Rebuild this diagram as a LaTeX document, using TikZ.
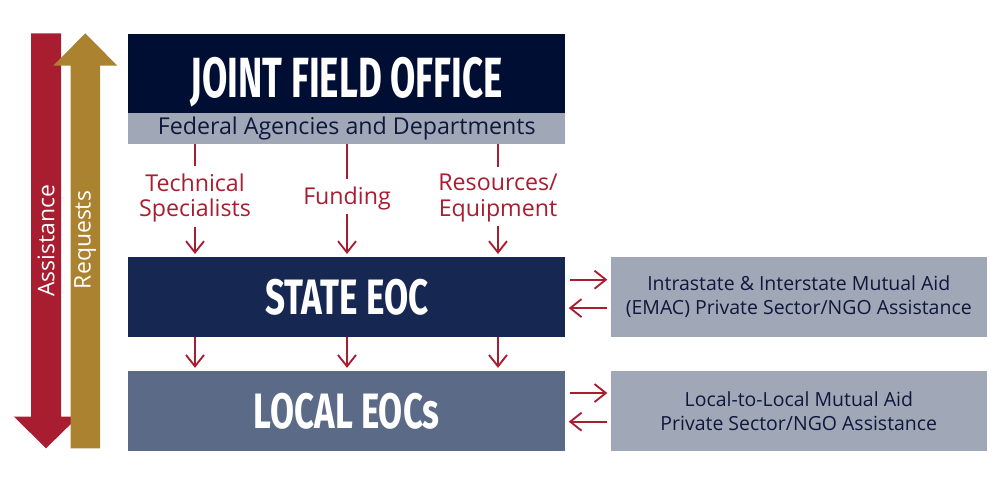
\documentclass[tikz,border=0pt]{standalone}
\usepackage{fontspec}
\usepackage{graphicx}
\setmainfont{Open Sans}
\newfontfamily\headfont{Fira Sans}
\usetikzlibrary{arrows.meta,positioning}

\definecolor{assistred}{HTML}{A91D30}
\definecolor{requestgold}{HTML}{AB8230}
\definecolor{jfonavy}{HTML}{010E34}
\definecolor{statenavy}{HTML}{162852}
\definecolor{localslate}{HTML}{5B6A87}
\definecolor{stripgray}{HTML}{A0A8B8}
\definecolor{textnavy}{HTML}{0E183A}

\newcommand{\headtext}[3]{{\headfont\bfseries\fontsize{#1}{#1}\selectfont\scalebox{#2}[1]{#3}}}

\tikzset{
  bigbox/.style={rectangle,minimum width=327.75pt,minimum height=59.5pt,
                 inner sep=0pt,text=white},
  strip/.style={rectangle,fill=stripgray,minimum width=327.75pt,
                minimum height=23.1pt,inner sep=0pt,text=textnavy,
                font=\fontsize{17.4}{18}\selectfont},
  sidebox/.style={rectangle,fill=stripgray,minimum width=282pt,
                  minimum height=59.5pt,inner sep=0pt,text=textnavy,align=center,
                  font=\fontsize{14.6}{18}\selectfont},
  flowlabel/.style={text=assistred,align=center,inner xsep=0pt,inner ysep=3pt,
                    font=\fontsize{17.4}{19}\selectfont},
  sidetext/.style={text=white,rotate=90,font=\fontsize{17.2}{20}\selectfont},
  flow/.style={draw=assistred,line width=1.4pt}
}

\begin{document}
\begin{tikzpicture}[x=0.75pt,y=0.75pt,>={Straight Barb[length=8.5pt,width=13.5pt]},
                    shorten >=2.4pt]
  \useasboundingbox (0,0) rectangle (1000,500);

  \fill[assistred] (31,466.7) -- (61,466.7) -- (61,83.3) -- (78.3,83.3) -- (46,51.7)
                   -- (14,83.3) -- (31,83.3) -- cycle;
  \fill[requestgold] (70.7,51.7) -- (100,51.7) -- (100,434.3) -- (117.3,434.3)
                   -- (85.3,466.7) -- (53.3,434.3) -- (70.7,434.3) -- cycle;
  \node[sidetext] (assist) at (46,259)   {Assistance};
  \node[sidetext] (req)    at (85.3,260) {Requests};

  \node[bigbox,fill=jfonavy,anchor=north west] (jfo) at (128,466.7)
       {\raisebox{-3pt}[\height][0pt]{\headtext{42.5}{0.647}{JOINT FIELD OFFICE}}};
  \node[strip]                  (fed)   [below=0pt of jfo]    {Federal Agencies and Departments};
  \node[bigbox,fill=statenavy]  (state) [below=84.5pt of fed] {\headtext{37.3}{0.705}{STATE EOC}};
  \node[bigbox,fill=localslate] (local) [below=25.5pt of state] {\headtext{37.3}{0.70}{LOCAL EOCs}};
  \node[sidebox] (stateaid) [right=33.75pt of state]
       {Intrastate \& Interstate Mutual Aid\\(EMAC) Private Sector/NGO Assistance};
  \node[sidebox] (localaid) [right=33.75pt of local]
       {Local-to-Local Mutual Aid\\Private Sector/NGO Assistance};

  \node[flowlabel] (tech)  at (195,302) {Technical\\Specialists};
  \node[flowlabel] (fund)  at (347,302) {Funding};
  \node[flowlabel] (equip) at (498,302) {Resources/\\Equipment};

  \path[flow] (fed.south -| tech)  edge (tech)
              (tech)  edge[->] (state.north -| tech)
              (fed.south -| fund)  edge (fund)
              (fund)  edge[->] (state.north -| fund)
              (fed.south -| equip) edge (equip)
              (equip) edge[->] (state.north -| equip)
              (state.south -| tech)  edge[->] (local.north -| tech)
              (state.south -| fund)  edge[->] (local.north -| fund)
              (state.south -| equip) edge[->] (local.north -| equip);

  \path[flow,shorten <=3pt]
        ([yshift=-16.9pt]state.north east)    edge[->] ([yshift=-16.9pt]stateaid.north west)
        ([yshift=-38.2pt]stateaid.north west) edge[->] ([yshift=-38.2pt]state.north east)
        ([yshift=-16.5pt]local.north east)    edge[->] ([yshift=-16.5pt]localaid.north west)
        ([yshift=-38pt]localaid.north west)   edge[->] ([yshift=-38pt]local.north east);
\end{tikzpicture}
\end{document}
